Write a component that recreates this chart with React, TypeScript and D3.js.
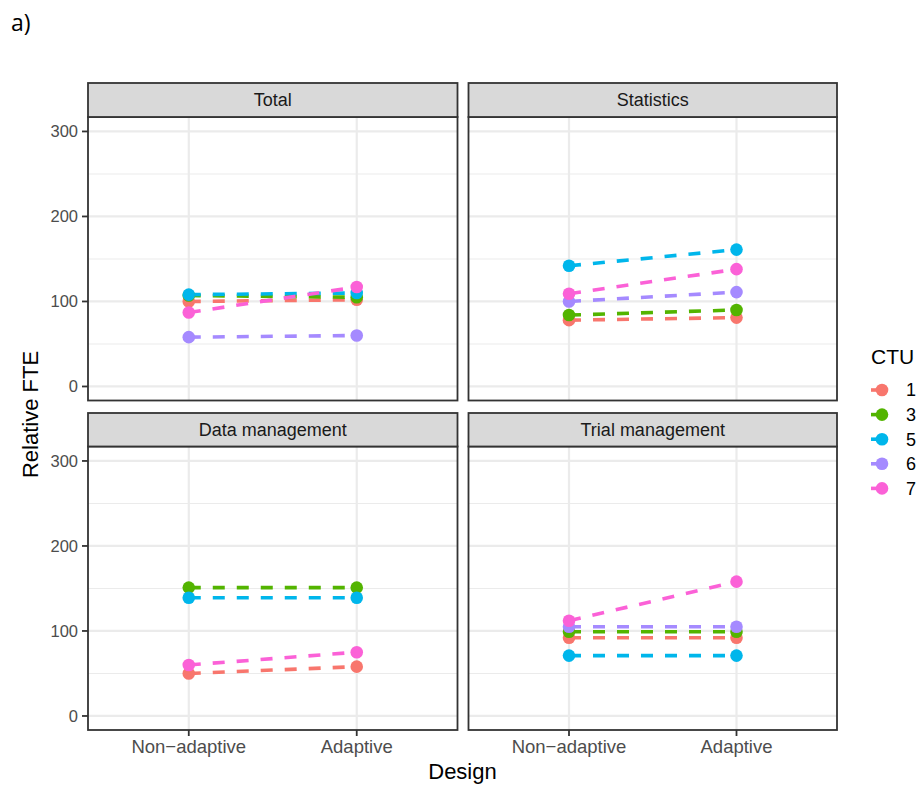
import React from 'react';
import * as d3 from 'd3';

const designs = ["Non-adaptive", "Adaptive"];
const designLabels = ["Non\u2212adaptive", "Adaptive"];
const panelTitles = ["Total", "Statistics", "Data management", "Trial management"];
const ctus = ["1", "3", "5", "6", "7"];
const ctuColors = ["#F8766D", "#53B400", "#00B6EB", "#A58AFF", "#FB61D7"];
const yTicks = [0, 100, 200, 300];
const yMinorTicks = [50, 150, 250];

// values per CTU (order of ctus): [Non-adaptive, Adaptive]
const totalValues = [[100, 102], [107, 105], [108, 110], [58, 60], [87, 117]];
const statisticsValues = [[78, 81], [84, 90], [142, 161], [100, 111], [109, 138]];
const dataManagementValues = [[50, 58], [151, 151], [139, 139], null, [60, 75]];
const trialManagementValues = [[92, 92], [99, 99], [71, 71], [105, 105], [112, 158]];

const panelValues = [totalValues, statisticsValues, dataManagementValues, trialManagementValues];

const W = 924, H = 787;
const cols = [[88, 457.5], [468.5, 837]];
const rows = [
  { stripTop: 83, top: 117, bottom: 400.5 },
  { stripTop: 413, top: 446.5, bottom: 730 },
];
const yDomain = [-16.5, 317];
const font = "'Liberation Sans', Arial, sans-serif";

function Panel({ idx }: { idx: number }) {
  const col = idx % 2, row = Math.floor(idx / 2);
  const [x0, x1] = cols[col];
  const r = rows[row];
  const x = d3.scalePoint<string>().domain(designs).range([x0, x1]).padding(0.6);
  const y = d3.scaleLinear().domain(yDomain).range([r.bottom, r.top]);
  const line = d3.line<number>().x((_, i) => x(designs[i])!).y(v => y(v));
  const vals = panelValues[idx];
  return (
    <g>
      <rect x={x0} y={r.top} width={x1 - x0} height={r.bottom - r.top} fill="#fff" />
      {yMinorTicks.map(t => (
        <line key={'m' + t} x1={x0} x2={x1} y1={y(t)} y2={y(t)} stroke="#EBEBEB" strokeWidth={1.1} />
      ))}
      {yTicks.map(t => (
        <line key={'g' + t} x1={x0} x2={x1} y1={y(t)} y2={y(t)} stroke="#EBEBEB" strokeWidth={2.2} />
      ))}
      {designs.map(d => (
        <line key={'v' + d} x1={x(d)} x2={x(d)} y1={r.top} y2={r.bottom} stroke="#EBEBEB" strokeWidth={2.2} />
      ))}
      {vals.map((s, i) => s ? (
        <path key={'l' + i} d={line(s)!} fill="none" stroke={ctuColors[i]} strokeWidth={3.6} strokeDasharray="12 12" />
      ) : null)}
      {vals.map((s, i) => s ? s.map((v, j) => (
        <circle key={'p' + i + '-' + j} cx={x(designs[j])} cy={y(v)} r={6.3} fill={ctuColors[i]} />
      )) : null)}
      <rect x={x0} y={r.top} width={x1 - x0} height={r.bottom - r.top} fill="none" stroke="#333" strokeWidth={1.8} />
      <rect x={x0} y={r.stripTop} width={x1 - x0} height={r.top - r.stripTop} fill="#D9D9D9" stroke="#333" strokeWidth={1.8} />
      <text x={(x0 + x1) / 2} y={(r.stripTop + r.top) / 2} dy="0.35em" textAnchor="middle" fontSize={18} fill="#1A1A1A" fontFamily={font}>{panelTitles[idx]}</text>
      {col === 0 && yTicks.map(t => (
        <g key={'yt' + t}>
          <line x1={x0 - 6} x2={x0} y1={y(t)} y2={y(t)} stroke="#333" strokeWidth={1.8} />
          <text x={x0 - 10} y={y(t)} dy="0.36em" textAnchor="end" fontSize={16.5} fill="#4D4D4D" fontFamily={font}>{t}</text>
        </g>
      ))}
      {row === 1 && designs.map((d, i) => (
        <g key={'xt' + d}>
          <line x1={x(d)} x2={x(d)} y1={r.bottom} y2={r.bottom + 6} stroke="#333" strokeWidth={1.8} />
          <text x={x(d)} y={r.bottom + 22.5} textAnchor="middle" fontSize={18.5} fill="#4D4D4D" fontFamily={font}>{designLabels[i]}</text>
        </g>
      ))}
    </g>
  );
}

export default function App() {
  const legendY0 = 390, legendStep = 24.6;
  return (
    <svg width={W} height={H} style={{ position: 'absolute', left: 0, top: 0, background: '#fff' }}>
      <rect width={W} height={H} fill="#fff" />
      <text x={11} y={31} fontSize={23} fill="#000" fontFamily="'Open Sans', sans-serif">a)</text>
      {panelTitles.map((_, i) => <Panel key={i} idx={i} />)}
      <text x={(cols[0][0] + cols[1][1]) / 2} y={779} textAnchor="middle" fontSize={22} fill="#000" fontFamily={font}>Design</text>
      <text transform={`translate(38,${(rows[0].stripTop + rows[1].bottom) / 2 + 8}) rotate(-90)`} textAnchor="middle" fontSize={22} fill="#000" fontFamily={font}>Relative FTE</text>
      <text x={871} y={364} fontSize={21} fill="#000" fontFamily={font}>CTU</text>
      {ctus.map((c, i) => {
        const cy = legendY0 + i * legendStep;
        return (
          <g key={'lg' + c}>
            <line x1={871} x2={893} y1={cy} y2={cy} stroke={ctuColors[i]} strokeWidth={3.6} strokeDasharray="12 12" />
            <circle cx={882} cy={cy} r={6.3} fill={ctuColors[i]} />
            <text x={906} y={cy} dy="0.36em" fontSize={18} fill="#000" fontFamily={font}>{c}</text>
          </g>
        );
      })}
    </svg>
  );
}
